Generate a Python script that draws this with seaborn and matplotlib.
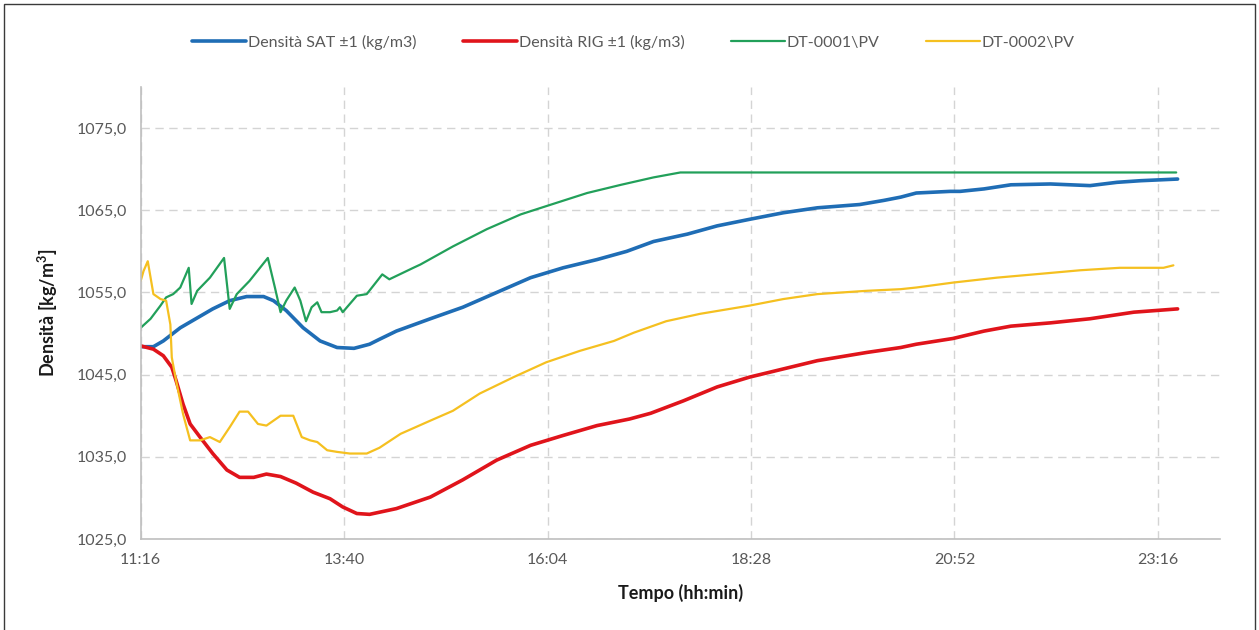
import matplotlib
matplotlib.use("Agg")
import matplotlib.pyplot as plt
from matplotlib.patches import Rectangle
from matplotlib.ticker import FuncFormatter, FixedLocator
import seaborn as sns
import pandas as pd

# ---------------- data ----------------
sat_time = ["11:16", "11:25", "11:32", "11:44", "11:56", "12:07", "12:19", "12:31", "12:43", "12:50",
            "12:59", "13:11", "13:23", "13:35", "13:47", "13:58", "14:05", "14:17", "14:41", "15:04",
            "15:28", "15:52", "16:15", "16:39", "17:00", "17:19", "17:43", "18:04", "18:27", "18:51",
            "19:15", "19:45", "20:02", "20:14", "20:25", "20:49", "20:56", "21:13", "21:32", "22:00",
            "22:28", "22:47", "23:04", "23:30"]
sat_val = [1048.4, 1048.4, 1049.1, 1050.7, 1051.9, 1053.0, 1054.0, 1054.5, 1054.5, 1054.0,
           1052.8, 1050.7, 1049.1, 1048.3, 1048.2, 1048.7, 1049.3, 1050.3, 1051.8, 1053.2,
           1055.0, 1056.8, 1058.0, 1059.0, 1060.0, 1061.2, 1062.1, 1063.1, 1063.9, 1064.7,
           1065.3, 1065.7, 1066.2, 1066.6, 1067.1, 1067.3, 1067.3, 1067.6, 1068.1, 1068.2,
           1068.0, 1068.4, 1068.6, 1068.8]

rig_time = ["11:16", "11:25", "11:32", "11:38", "11:41", "11:46", "11:51", "11:58", "12:07", "12:17",
            "12:26", "12:36", "12:45", "12:55", "13:06", "13:18", "13:30", "13:39", "13:49", "13:58",
            "14:17", "14:41", "15:04", "15:28", "15:52", "16:15", "16:39", "17:02", "17:17", "17:40",
            "18:04", "18:27", "18:51", "19:15", "19:50", "20:14", "20:25", "20:51", "21:13", "21:32",
            "22:00", "22:28", "22:59", "23:30"]
rig_val = [1048.5, 1048.1, 1047.3, 1045.9, 1044.3, 1041.4, 1039.0, 1037.4, 1035.4, 1033.4,
           1032.5, 1032.5, 1032.9, 1032.6, 1031.8, 1030.7, 1029.9, 1028.9, 1028.1, 1028.0,
           1028.7, 1030.1, 1032.2, 1034.6, 1036.4, 1037.6, 1038.8, 1039.6, 1040.3, 1041.8,
           1043.5, 1044.7, 1045.7, 1046.7, 1047.7, 1048.3, 1048.7, 1049.4, 1050.3, 1050.9,
           1051.3, 1051.8, 1052.6, 1053.0]

dt1_time = ["11:16", "11:23", "11:30", "11:34", "11:39", "11:44", "11:50", "11:52", "11:56", "12:05",
            "12:15", "12:19", "12:24", "12:33", "12:46", "12:51", "12:55", "12:59", "13:05", "13:09",
            "13:13", "13:17", "13:21", "13:24", "13:30", "13:35", "13:37", "13:39", "13:49", "13:56",
            "14:07", "14:12", "14:29", "14:34", "14:57", "15:21", "15:45", "16:03", "16:32", "16:56",
            "17:19", "17:38", "23:29"]
dt1_val = [1050.7, 1051.8, 1053.4, 1054.4, 1054.8, 1055.6, 1058.0, 1053.6, 1055.2, 1056.8,
           1059.2, 1053.0, 1054.8, 1056.4, 1059.2, 1055.6, 1052.6, 1054.0, 1055.6, 1054.0,
           1051.5, 1053.2, 1053.8, 1052.6, 1052.6, 1052.8, 1053.2, 1052.6, 1054.6, 1054.8,
           1057.2, 1056.6, 1058.0, 1058.4, 1060.6, 1062.7, 1064.5, 1065.5, 1067.1, 1068.1,
           1069.0, 1069.6, 1069.6]

dt2_time = ["11:16", "11:18", "11:21", "11:23", "11:25", "11:30", "11:34", "11:37", "11:38", "11:41",
            "11:46", "11:51", "11:58", "12:05", "12:12", "12:19", "12:26", "12:32", "12:39", "12:45",
            "12:55", "13:04", "13:10", "13:16", "13:21", "13:28", "13:35", "13:44", "13:56", "14:05",
            "14:20", "14:41", "14:57", "15:16", "15:40", "16:03", "16:27", "16:51", "17:05", "17:28",
            "17:52", "18:27", "18:51", "19:15", "19:50", "20:14", "20:25", "20:51", "21:22", "21:55",
            "22:21", "22:49", "23:20", "23:27"]
dt2_val = [1056.4, 1057.6, 1058.8, 1056.8, 1054.8, 1054.2, 1054.0, 1051.1, 1047.1, 1044.3,
           1040.2, 1037.0, 1037.0, 1037.4, 1036.8, 1038.6, 1040.5, 1040.5, 1039.0, 1038.8,
           1040.0, 1040.0, 1037.4, 1037.0, 1036.8, 1035.8, 1035.6, 1035.4, 1035.4, 1036.1,
           1037.8, 1039.4, 1040.6, 1042.7, 1044.7, 1046.5, 1047.9, 1049.1, 1050.1, 1051.5,
           1052.4, 1053.4, 1054.2, 1054.8, 1055.2, 1055.4, 1055.6, 1056.2, 1056.8, 1057.3,
           1057.7, 1058.0, 1058.0, 1058.3]

series_names = ["Densità SAT ±1 (kg/m3)", "Densità RIG ±1 (kg/m3)", "DT-0001\\PV", "DT-0002\\PV"]
x_tick_labels = ["11:16", "13:40", "16:04", "18:28", "20:52", "23:16"]
y_ticks = [1025, 1035, 1045, 1055, 1065, 1075]


def to_min(s):
    h, m = s.split(":")
    return int(h) * 60 + int(m)


# ---------------- styling ----------------
sns.set_theme(style="white")
plt.rcParams["font.family"] = ["Lato", "DejaVu Sans"]

fig = plt.figure(figsize=(12.59, 6.30), dpi=100)
ax = fig.add_axes([140.7 / 1259, 91 / 630, (1220 - 140.7) / 1259, (539 - 87) / 630])

colors = ["#1F6DB5", "#E0141B", "#22A05A", "#F5C020"]
widths = [2.6, 2.6, 1.6, 1.6]
data = [(sat_time, sat_val), (rig_time, rig_val), (dt1_time, dt1_val), (dt2_time, dt2_val)]

for (tt, vv), name, c, w in zip(data, series_names, colors, widths):
    df = pd.DataFrame({"t": [to_min(s) for s in tt], "v": vv})
    sns.lineplot(data=df, x="t", y="v", ax=ax, color=c, linewidth=w, label=name,
                 sort=False, estimator=None, solid_joinstyle="round", solid_capstyle="round")

ax.set_xlim(676, 1440)
ax.set_ylim(1025, 1080)
ax.xaxis.set_major_locator(FixedLocator([to_min(s) for s in x_tick_labels]))
ax.xaxis.set_major_formatter(FuncFormatter(lambda v, p: f"{int(v)//60}:{int(v)%60:02d}"))
ax.yaxis.set_major_locator(FixedLocator(y_ticks))
ax.yaxis.set_major_formatter(FuncFormatter(lambda v, p: f"{v:.1f}".replace(".", ",")))

ax.grid(True, which="major", axis="both", color="#d4d4d4", linestyle=(0, (6, 4)), linewidth=1.0)
for s in ["top", "right"]:
    ax.spines[s].set_visible(False)
for s in ["left", "bottom"]:
    ax.spines[s].set_color("#bfbfbf")
    ax.spines[s].set_linewidth(1.2)

ax.tick_params(axis="both", length=0, labelsize=11.5, labelcolor="#595959", pad=10)
ax.set_xlabel("Tempo (hh:min)", fontsize=13, fontweight="bold", color="#1a1a1a", labelpad=12)
ax.set_ylabel("Densità [kg/m$^\\mathregular{3}$]", fontsize=13, fontweight="bold", color="#1a1a1a", labelpad=12)

ax.get_legend().remove()
handles, labels = ax.get_legend_handles_labels()
fig.legend(handles, labels, loc="center", bbox_to_anchor=(0.503, 1 - 42 / 630), ncol=4, frameon=False,
           fontsize=11.5, labelcolor="#595959", handlelength=3.4, handletextpad=0.1, columnspacing=2.9)

fig.patches.append(Rectangle((4 / 1259, -0.02), 1251 / 1259, 1 - 4 / 630 + 0.02, transform=fig.transFigure,
                             fill=False, edgecolor="#3a3a3a", linewidth=1.0))

fig.savefig("out.png", dpi=100)
